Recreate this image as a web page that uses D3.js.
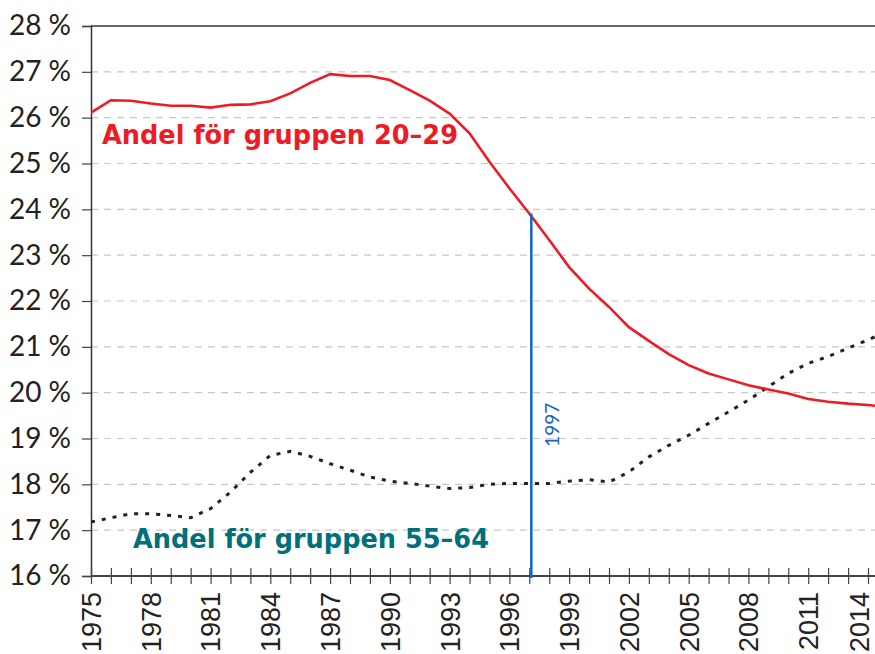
<!DOCTYPE html>
<html>
<head>
<meta charset="utf-8">
<script src="https://cdn.jsdelivr.net/npm/d3@7"></script>
<style>
  body { margin: 0; background: #fff; }
  svg { display: block; font-family: Lato, "Open Sans", sans-serif; }
</style>
</head>
<body>
<svg id="chart" width="875" height="654"></svg>
<script>
const years = d3.range(1975, 2016);
// Andel för gruppen 20-29 (%)
const young = [26.11, 26.38, 26.37, 26.31, 26.26, 26.26, 26.22, 26.28, 26.29, 26.36,
  26.53, 26.76, 26.95, 26.91, 26.91, 26.82, 26.60, 26.37, 26.09, 25.66,
  25.04, 24.46, 23.91, 23.33, 22.74, 22.27, 21.87, 21.43, 21.13, 20.84,
  20.60, 20.42, 20.29, 20.16, 20.07, 19.98, 19.86, 19.80, 19.76, 19.73, 19.69];
// Andel för gruppen 55-64 (%)
const older = [17.18, 17.27, 17.36, 17.36, 17.32, 17.27, 17.47, 17.83, 18.26, 18.63,
  18.72, 18.61, 18.45, 18.31, 18.16, 18.07, 18.02, 17.96, 17.91, 17.93,
  18.00, 18.02, 18.02, 18.02, 18.07, 18.10, 18.05, 18.27, 18.60, 18.85,
  19.07, 19.33, 19.58, 19.84, 20.13, 20.42, 20.64, 20.79, 20.97, 21.15, 21.35];
const yTicks = d3.range(16, 29);
const xLabelYears = d3.range(1975, 2015, 3);
const markYear = 1997;

const svg = d3.select("#chart");
const plotLeft = 91, plotTop = 26, plotBottom = 576, plotRight = 875;

const x = d3.scaleLinear().domain([1975, 2014]).range([plotLeft, 868]);
const y = d3.scaleLinear().domain([16, 28]).range([plotBottom, plotTop]);

svg.append("clipPath").attr("id", "plot")
  .append("rect").attr("x", plotLeft).attr("y", 0)
  .attr("width", plotRight - plotLeft).attr("height", plotBottom + 2);

// grid
svg.append("g").selectAll("line")
  .data(yTicks.filter(d => d > 16 && d < 28))
  .join("line")
  .attr("x1", plotLeft).attr("x2", plotRight)
  .attr("y1", d => y(d)).attr("y2", d => y(d))
  .attr("stroke", "#c8c8c8").attr("stroke-width", 1.2)
  .attr("stroke-dasharray", "7,6");

svg.append("line")
  .attr("x1", plotLeft).attr("x2", plotRight).attr("y1", y(28)).attr("y2", y(28))
  .attr("stroke", "#333").attr("stroke-width", 1.5);

// y axis
const yAxis = svg.append("g")
  .attr("transform", `translate(${plotLeft},0)`)
  .call(d3.axisLeft(y).tickValues(yTicks).tickSize(9).tickPadding(11)
    .tickFormat(d => d + " %"));
yAxis.select(".domain").attr("stroke", "#333").attr("stroke-width", 1.5);
yAxis.selectAll(".tick line").attr("stroke", "#444").attr("stroke-width", 1.2);
yAxis.selectAll(".tick text")
  .attr("font-size", 28).attr("fill", "#222").attr("font-family", "Lato, sans-serif");

// x axis
const xAxis = svg.append("g")
  .attr("transform", `translate(0,${plotBottom})`)
  .call(d3.axisBottom(x).tickValues(d3.range(1975, 2015)).tickSize(8)
    .tickFormat(d => xLabelYears.includes(d) ? d : ""));
xAxis.select(".domain").remove();
xAxis.append("line").attr("x1", plotLeft).attr("x2", plotRight)
  .attr("stroke", "#444").attr("stroke-width", 1.8);
xAxis.selectAll(".tick line").attr("y1", -8).attr("y2", 8)
  .attr("stroke", "#444").attr("stroke-width", 1.2);
xAxis.selectAll(".tick text")
  .attr("font-size", 27).attr("fill", "#222")
  .attr("text-anchor", "end")
  .attr("transform", "translate(0,16) rotate(-90)")
  .attr("x", 0).attr("y", 0)
  .attr("dy", d => d === 2014 ? "0em" : "0.35em");

const line = d3.line().x((d, i) => x(years[i])).y(d => y(d));
const plot = svg.append("g").attr("clip-path", "url(#plot)");

plot.append("path").datum(older)
  .attr("d", line).attr("fill", "none")
  .attr("stroke", "#222").attr("stroke-width", 3)
  .attr("stroke-dasharray", "4,7");

plot.append("path").datum(young)
  .attr("d", line).attr("fill", "none")
  .attr("stroke", "#ed1c24").attr("stroke-width", 2.6);

// 1997 marker
const markVal = young[years.indexOf(markYear)];
svg.append("line")
  .attr("x1", x(markYear) + 2).attr("x2", x(markYear) + 2)
  .attr("y1", y(markVal)).attr("y2", plotBottom + 2)
  .attr("stroke", "#1565c0").attr("stroke-width", 2.5);
svg.append("text")
  .attr("transform", `translate(${x(markYear) + 23},${y(19.3)}) rotate(-90)`)
  .attr("text-anchor", "middle").attr("dy", "0.35em")
  .attr("font-size", 19).attr("fill", "#1565c0")
  .text(markYear);

// labels
svg.append("text").attr("x", 102).attr("y", y(25.43))
  .attr("font-family", "DejaVu Sans, sans-serif")
  .attr("font-size", 27).attr("font-weight", "bold").attr("fill", "#ed1c24")
  .attr("textLength", 356).attr("lengthAdjust", "spacingAndGlyphs")
  .text("Andel för gruppen 20–29");
svg.append("text").attr("x", 133).attr("y", y(16.61))
  .attr("font-family", "DejaVu Sans, sans-serif")
  .attr("font-size", 27).attr("font-weight", "bold").attr("fill", "#00707a")
  .attr("textLength", 356).attr("lengthAdjust", "spacingAndGlyphs")
  .text("Andel för gruppen 55–64");
</script>
</body>
</html>
